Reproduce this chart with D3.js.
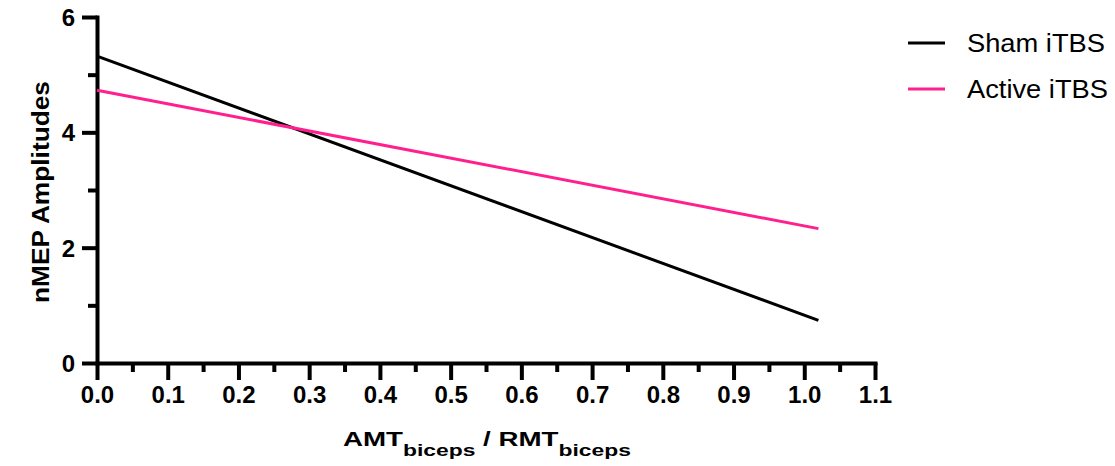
<!DOCTYPE html>
<html>
<head>
<meta charset="utf-8">
<script src="https://cdn.jsdelivr.net/npm/d3@7"></script>
<style>
  body { margin: 0; background: #fff; }
  text { font-family: "Liberation Sans", Arial, sans-serif; }
</style>
</head>
<body>
<svg></svg>
<script>
const CHART_SIZE = { width: 1115, height: 466 };
const MARGIN = { left: 97, top: 17, right: 240, bottom: 103 };
const WIDTH = 875 - MARGIN.left;
const HEIGHT = 363 - MARGIN.top;

const seriesNames = ['Sham iTBS', 'Active iTBS'];
const seriesColors = ['#000000', '#ff1f8e'];
const xEnds = [0, 1.02];
const shamValues = [5.32, 0.74];
const activeValues = [4.73, 2.33];
const xTicks = [0, 0.1, 0.2, 0.3, 0.4, 0.5, 0.6, 0.7, 0.8, 0.9, 1.0, 1.1];
const xMinorTicks = [0.05, 0.15, 0.25, 0.35, 0.45, 0.55, 0.65, 0.75, 0.85, 0.95, 1.05];
const yTicks = [0, 2, 4, 6];
const yMinorTicks = [1, 3, 5];

const svg = d3.select('svg')
  .attr('width', CHART_SIZE.width)
  .attr('height', CHART_SIZE.height);

const g = svg.append('g')
  .attr('transform', `translate(${MARGIN.left},${MARGIN.top})`);

const x = d3.scaleLinear().domain([0, 1.1]).range([0, WIDTH]);
const y = d3.scaleLinear().domain([0, 6]).range([HEIGHT, 0]);

// stretch a text group horizontally so it spans the given width
const fitWidth = (grp, sel, target) => {
  const w = sel.node().getBBox().width;
  grp.attr('transform', grp.attr('transform') + ` scale(${target / w},1)`);
};

// minor ticks first, then major axes on top
g.append('g')
  .attr('transform', `translate(0,${HEIGHT})`)
  .call(d3.axisBottom(x).tickValues(xMinorTicks).tickSize(9).tickFormat(''))
  .call(a => a.select('.domain').remove())
  .call(a => a.selectAll('line').attr('stroke-width', 4));

g.append('g')
  .call(d3.axisLeft(y).tickValues(yMinorTicks).tickSize(9).tickFormat(''))
  .call(a => a.select('.domain').remove())
  .call(a => a.selectAll('line').attr('stroke-width', 4));

const xAxis = g.append('g')
  .attr('transform', `translate(0,${HEIGHT})`)
  .call(d3.axisBottom(x).tickValues(xTicks).tickSize(17).tickSizeOuter(0).tickPadding(6).tickFormat(d3.format('.1f')));

const yAxis = g.append('g')
  .call(d3.axisLeft(y).tickValues(yTicks).tickSize(15).tickSizeOuter(0).tickPadding(7).tickFormat(d3.format('d')));

[xAxis, yAxis].forEach(a => {
  a.select('.domain').attr('stroke-width', 4).attr('stroke-linecap', 'square');
  a.selectAll('line').attr('stroke-width', 4);
  a.selectAll('text')
    .attr('font-size', 24)
    .attr('font-weight', 'bold')
    .attr('fill', '#000');
});
yAxis.selectAll('text').attr('dy', '0.36em');

const series = [shamValues, activeValues];
const line = d3.line()
  .x((d, i) => x(xEnds[i]))
  .y(d => y(d));

g.selectAll('.fit')
  .data(series)
  .join('path')
  .attr('class', 'fit')
  .attr('d', d => line(d))
  .attr('fill', 'none')
  .attr('stroke', (d, i) => seriesColors[i])
  .attr('stroke-width', 3);

// y title
const yg = svg.append('g').attr('transform', 'translate(49,192) rotate(-90)');
const yt = yg.append('text')
  .attr('text-anchor', 'middle')
  .attr('font-size', 24)
  .attr('font-weight', 'bold')
  .text('nMEP Amplitudes');
fitWidth(yg, yt, 222);

// x title
const xg = svg.append('g').attr('transform', 'translate(343,446)');
const xt = xg.append('text')
  .attr('font-size', 20)
  .attr('font-weight', 'bold');
xt.append('tspan').text('AMT');
xt.append('tspan').attr('font-size', 16.5).attr('dy', 10).text('biceps');
xt.append('tspan').attr('dy', -10).text(' / RMT');
xt.append('tspan').attr('font-size', 16.5).attr('dy', 10).text('biceps');
fitWidth(xg, xt, 288);

// legend
const legend = svg.append('g').attr('transform', 'translate(908,43)');
const items = legend.selectAll('g')
  .data(seriesNames)
  .join('g')
  .attr('transform', (d, i) => `translate(0,${i * 46})`);
items.append('line')
  .attr('x1', 0).attr('x2', 37)
  .attr('stroke', (d, i) => seriesColors[i])
  .attr('stroke-width', 3);
const labels = items.append('g').attr('transform', 'translate(59,0)');
labels.append('text')
  .attr('dy', '0.36em')
  .attr('font-size', 25)
  .text(d => d);
const sw = labels.filter((d, i) => i === 0).select('text').node().getBBox().width;
labels.attr('transform', `translate(59,0) scale(${138 / sw},1)`);
</script>
</body>
</html>
